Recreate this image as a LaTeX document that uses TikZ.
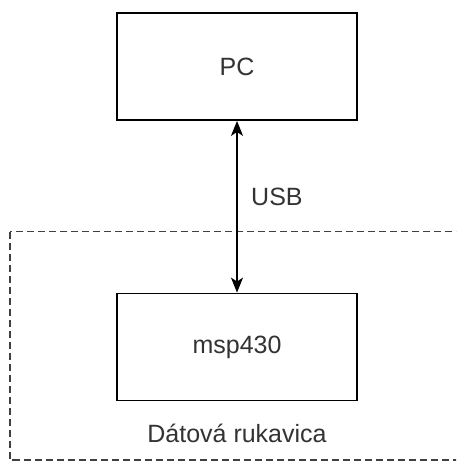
\documentclass[tikz,border=0pt]{standalone}
\usepackage{fontspec}
\setmainfont{Liberation Sans}
\usetikzlibrary{arrows.meta}
\begin{document}
\begin{tikzpicture}[x=1pt,y=-1pt,
  blockbox/.style={draw=black,line width=1.8pt,minimum width=240pt,minimum height=107pt,inner sep=0pt,font=\fontsize{25}{29}\selectfont,text=black!80},
  lbl/.style={font=\fontsize{25}{29}\selectfont,text=black!80,inner sep=0pt},
  groupbox/.style={draw=black!75,line width=1.6pt,dash pattern=on 7pt off 4pt},
  link/.style={line width=1.8pt,{Stealth[length=15pt,width=12pt,inset=4pt]}-{Stealth[length=15pt,width=12pt,inset=4pt]}}]
\useasboundingbox (0,0) rectangle (456,461);
\fill[white] (0,0) rectangle (456,461);
\begin{scope}
\clip (0,0) rectangle (456,461);
\draw[groupbox] (10,231.5) rectangle (470,460);
\end{scope}
\node[blockbox] (pc) at (237,66.5) {PC};
\node[blockbox] (msp) at (237,347) {msp430};
\draw[link] (pc.south) -- (msp.north);
\node[lbl,anchor=west] (usb) at (251,196.5) {USB};
\node[lbl] (glove) at (237,433) {Dátová rukavica};
\end{tikzpicture}
\end{document}
